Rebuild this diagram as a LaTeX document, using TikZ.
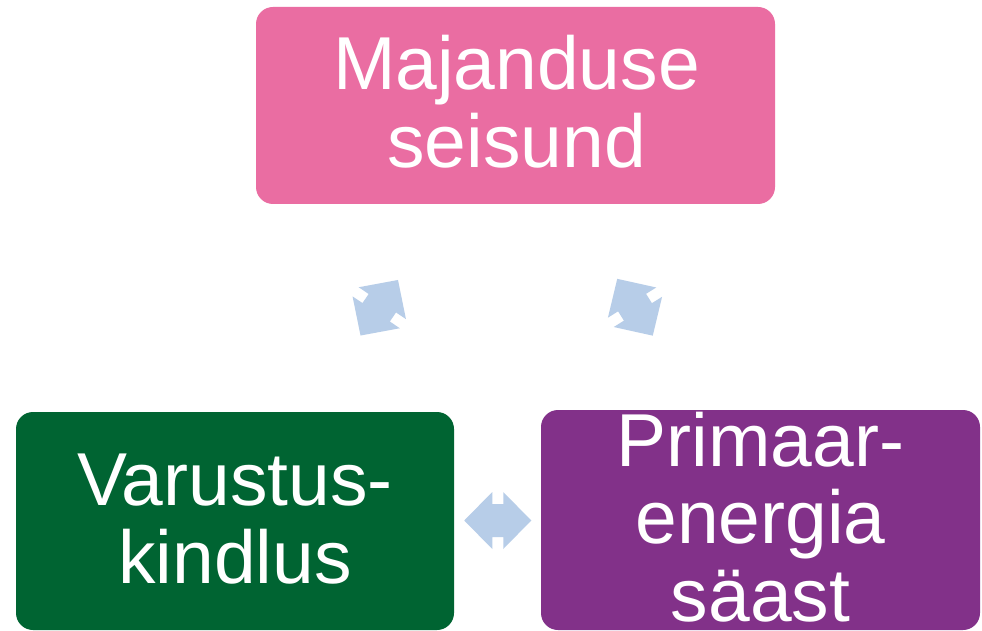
\documentclass[tikz,border=0pt]{standalone}
\usepackage{fontspec}
\setmainfont{Liberation Sans}
\usetikzlibrary{calc}
\definecolor{pinkbox}{HTML}{EA6DA2}
\definecolor{greenbox}{HTML}{006432}
\definecolor{purplebox}{HTML}{823189}
\definecolor{arrowblue}{HTML}{B7CDE8}
\begin{document}
\begin{tikzpicture}[x=1pt,y=1pt,
  box/.style={rounded corners=17pt, inner sep=0pt, anchor=center},
  txt/.style={text=white, align=center, font=\fontsize{75}{77.5}\selectfont, inner sep=0pt, anchor=center},
  dblarrow/.pic={\fill[arrowblue] (-33.5,0) -- (-5.5,-28.5) -- (-5.5,-16.5) -- (5.5,-16.5) -- (5.5,-28.5) -- (33.5,0) -- (5.5,28.5) -- (5.5,16.5) -- (-5.5,16.5) -- (-5.5,28.5) -- cycle;}]
\useasboundingbox[fill=white] (0,0) rectangle (982,-631);
\node[box, fill=pinkbox, minimum width=519pt, minimum height=197pt] (maj) at (515.5,-105.5) {};
\node[box, fill=greenbox, minimum width=438pt, minimum height=218pt] (var) at (235,-521) {};
\node[box, fill=purplebox, minimum width=439pt, minimum height=220pt] (pri) at (760.5,-520) {};
\node[txt] (majt) at ($(maj.center)+(1,4)$) {Majanduse\\seisund};
\node[txt] (vart) at ($(var.center)+(0,2)$) {Varustus-\\kindlus};
\node[txt] (prit) at ($(pri.center)+(0,3)$) {Primaar-\\energia\\säast};
\pic[rotate=56] at ($(var)!0.5!(maj)+(4,5.5)$) {dblarrow};
\pic[rotate=-58] at ($(pri)!0.5!(maj)+(-3,5.5)$) {dblarrow};
\pic at ($(var)!0.5!(pri)$) {dblarrow};
\end{tikzpicture}
\end{document}
